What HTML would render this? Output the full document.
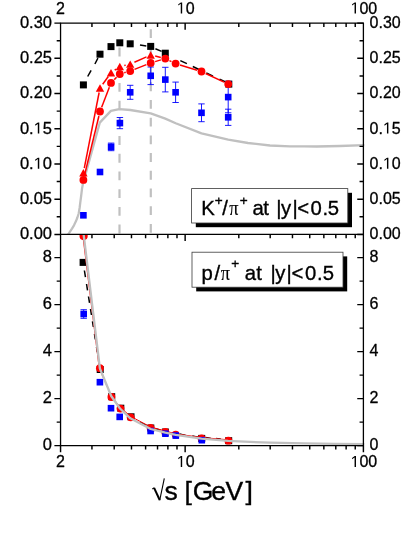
<!DOCTYPE html>
<html><head><meta charset="utf-8"><title>chart</title>
<style>html,body{margin:0;padding:0;background:#fff;}body{width:415px;height:537px;overflow:hidden;font-family:"Liberation Sans",sans-serif;}</style>
</head><body>
<svg width="415" height="537" viewBox="0 0 415 537" style="display:block;will-change:transform">
<rect width="415" height="537" fill="#fff"/>
<defs>
<clipPath id="c1"><rect x="60.55" y="23.1" width="304.15" height="211.3"/></clipPath>
<clipPath id="c2"><rect x="60.55" y="234.4" width="304.15" height="211.20000000000002"/></clipPath>
</defs>
<line x1="119.5" y1="47.6" x2="119.5" y2="234.4" stroke="#c0c0c0" stroke-width="2.2" stroke-dasharray="8.85 8.85"/>
<line x1="150.8" y1="29.2" x2="150.8" y2="234.4" stroke="#c0c0c0" stroke-width="2.2" stroke-dasharray="8.85 8.85"/>
<g clip-path="url(#c1)">
<polyline points="67.6,235.0 68.5,234.0 70.0,231.6 72.0,228.6 74.0,225.3 75.9,221.3 77.4,217.5 78.7,213.5 79.6,208.0 80.3,202.3 81.2,195.5 82.0,188.9 82.8,184.5 83.6,181.3 99.8,122.6 110.9,110.9 119.3,109.1 130.3,110.0 150.7,113.4 165.3,118.6 175.7,123.3 201.5,133.4 228.2,139.6 248.0,143.0 270.0,145.5 290.0,146.3 304.0,146.4 316.6,146.5 340.0,146.0 364.5,145.2" fill="none" stroke="#c0c0c0" stroke-width="2.3" stroke-linejoin="round" />
</g>
<line x1="87.7" y1="76.5" x2="91.1" y2="70.4" stroke="#000" stroke-width="1.5"/>
<line x1="94.9" y1="64.0" x2="97.9" y2="58.2" stroke="#000" stroke-width="1.5"/>
<line x1="140" y1="44.9" x2="146.3" y2="45.9" stroke="#000" stroke-width="1.5"/>
<line x1="155.4" y1="48.7" x2="161.6" y2="51.4" stroke="#000" stroke-width="1.5"/>
<line x1="180.3" y1="60.6" x2="186.9" y2="63.6" stroke="#000" stroke-width="1.5"/>
<line x1="192.8" y1="66.5" x2="199" y2="69.5" stroke="#000" stroke-width="1.5"/>
<line x1="206.3" y1="73.0" x2="213" y2="76.2" stroke="#000" stroke-width="1.5"/>
<line x1="219.5" y1="79.2" x2="225" y2="81.8" stroke="#000" stroke-width="1.5"/>
<rect x="79.90" y="81.40" width="7" height="7" fill="#000"/>
<rect x="96.50" y="50.70" width="7" height="7" fill="#000"/>
<rect x="107.50" y="43.10" width="7" height="7" fill="#000"/>
<rect x="116.30" y="39.30" width="7" height="7" fill="#000"/>
<rect x="126.70" y="40.30" width="7" height="7" fill="#000"/>
<rect x="147.20" y="42.90" width="7" height="7" fill="#000"/>
<rect x="161.80" y="49.70" width="7" height="7" fill="#000"/>
<rect x="225.30" y="80.60" width="7" height="7" fill="#000"/>
<path d="M111.10,143.10V150.70M107.90,143.10h6.4M107.90,150.70h6.4" stroke="#0000ff" stroke-width="0.9" fill="none"/>
<path d="M119.90,117.50V128.70M116.70,117.50h6.4M116.70,128.70h6.4" stroke="#0000ff" stroke-width="0.9" fill="none"/>
<path d="M130.20,85.30V99.30M127.00,85.30h6.4M127.00,99.30h6.4" stroke="#0000ff" stroke-width="0.9" fill="none"/>
<path d="M150.70,67.00V84.60M147.50,67.00h6.4M147.50,84.60h6.4" stroke="#0000ff" stroke-width="0.9" fill="none"/>
<path d="M165.30,67.30V91.90M162.10,67.30h6.4M162.10,91.90h6.4" stroke="#0000ff" stroke-width="0.9" fill="none"/>
<path d="M175.60,82.10V102.50M172.40,82.10h6.4M172.40,102.50h6.4" stroke="#0000ff" stroke-width="0.9" fill="none"/>
<path d="M201.50,103.90V121.70M198.30,103.90h6.4M198.30,121.70h6.4" stroke="#0000ff" stroke-width="0.9" fill="none"/>
<path d="M228.20,81.40V112.80M225.00,81.40h6.4M225.00,112.80h6.4" stroke="#0000ff" stroke-width="0.9" fill="none"/>
<path d="M228.20,109.20V125.40M225.00,109.20h6.4M225.00,125.40h6.4" stroke="#0000ff" stroke-width="0.9" fill="none"/>
<rect x="80.10" y="212.00" width="6.6" height="6.6" fill="#0000ff"/>
<rect x="96.70" y="168.70" width="6.6" height="6.6" fill="#0000ff"/>
<rect x="107.80" y="143.60" width="6.6" height="6.6" fill="#0000ff"/>
<rect x="116.60" y="119.80" width="6.6" height="6.6" fill="#0000ff"/>
<rect x="126.90" y="89.00" width="6.6" height="6.6" fill="#0000ff"/>
<rect x="147.40" y="72.50" width="6.6" height="6.6" fill="#0000ff"/>
<rect x="162.00" y="76.30" width="6.6" height="6.6" fill="#0000ff"/>
<rect x="172.30" y="89.00" width="6.6" height="6.6" fill="#0000ff"/>
<rect x="198.20" y="109.50" width="6.6" height="6.6" fill="#0000ff"/>
<rect x="224.90" y="93.80" width="6.6" height="6.6" fill="#0000ff"/>
<rect x="224.90" y="114.00" width="6.6" height="6.6" fill="#0000ff"/>
<line x1="84.28" y1="168.19" x2="99.12" y2="92.51" stroke="#ff0000" stroke-width="1.5"/>
<line x1="102.70" y1="84.27" x2="108.30" y2="76.53" stroke="#ff0000" stroke-width="1.5"/>
<line x1="114.74" y1="70.12" x2="116.06" y2="69.18" stroke="#ff0000" stroke-width="1.5"/>
<line x1="124.28" y1="65.47" x2="125.72" y2="65.13" stroke="#ff0000" stroke-width="1.5"/>
<line x1="134.40" y1="62.23" x2="146.50" y2="56.87" stroke="#ff0000" stroke-width="1.5"/>
<line x1="155.17" y1="56.10" x2="160.83" y2="57.50" stroke="#ff0000" stroke-width="1.5"/>
<polygon points="79.20,176.40 87.60,176.40 83.40,169.00" fill="#ff0000"/>
<polygon points="95.80,91.70 104.20,91.70 100.00,84.30" fill="#ff0000"/>
<polygon points="106.80,76.50 115.20,76.50 111.00,69.10" fill="#ff0000"/>
<polygon points="115.60,70.20 124.00,70.20 119.80,62.80" fill="#ff0000"/>
<polygon points="126.00,67.80 134.40,67.80 130.20,60.40" fill="#ff0000"/>
<polygon points="146.50,58.70 154.90,58.70 150.70,51.30" fill="#ff0000"/>
<line x1="84.48" y1="175.43" x2="98.92" y2="115.97" stroke="#ff0000" stroke-width="1.5"/>
<line x1="101.65" y1="107.21" x2="109.35" y2="87.19" stroke="#ff0000" stroke-width="1.5"/>
<line x1="114.23" y1="79.63" x2="116.57" y2="77.27" stroke="#ff0000" stroke-width="1.5"/>
<line x1="124.23" y1="72.76" x2="125.77" y2="72.34" stroke="#ff0000" stroke-width="1.5"/>
<line x1="134.47" y1="69.39" x2="146.43" y2="64.61" stroke="#ff0000" stroke-width="1.5"/>
<line x1="155.11" y1="61.60" x2="160.89" y2="59.90" stroke="#ff0000" stroke-width="1.5"/>
<line x1="169.44" y1="60.61" x2="171.46" y2="61.59" stroke="#ff0000" stroke-width="1.5"/>
<line x1="180.00" y1="64.94" x2="197.10" y2="70.16" stroke="#ff0000" stroke-width="1.5"/>
<line x1="205.66" y1="73.46" x2="224.04" y2="82.14" stroke="#ff0000" stroke-width="1.5"/>
<circle cx="83.40" cy="179.90" r="3.9" fill="#ff0000"/>
<circle cx="100.00" cy="111.50" r="3.9" fill="#ff0000"/>
<circle cx="111.00" cy="82.90" r="3.9" fill="#ff0000"/>
<circle cx="119.80" cy="74.00" r="3.9" fill="#ff0000"/>
<circle cx="130.20" cy="71.10" r="3.9" fill="#ff0000"/>
<circle cx="150.70" cy="62.90" r="3.9" fill="#ff0000"/>
<circle cx="165.30" cy="58.60" r="3.9" fill="#ff0000"/>
<circle cx="175.60" cy="63.60" r="3.9" fill="#ff0000"/>
<circle cx="201.50" cy="71.50" r="3.9" fill="#ff0000"/>
<circle cx="228.20" cy="84.10" r="3.9" fill="#ff0000"/>
<g clip-path="url(#c2)">
<line x1="84.39" y1="270.5" x2="85.45" y2="277.2" stroke="#000" stroke-width="1.5"/>
<line x1="86.53" y1="284" x2="87.53" y2="290.3" stroke="#000" stroke-width="1.5"/>
<line x1="88.51" y1="296.5" x2="89.53" y2="302.9" stroke="#000" stroke-width="1.5"/>
<line x1="90.5" y1="309" x2="91.45" y2="315" stroke="#000" stroke-width="1.5"/>
<line x1="92.45" y1="321.3" x2="93.35" y2="327" stroke="#000" stroke-width="1.5"/>
<line x1="94.46" y1="334" x2="95.34" y2="339.5" stroke="#000" stroke-width="1.5"/>
<line x1="96.5" y1="346.8" x2="97.35" y2="352.2" stroke="#000" stroke-width="1.5"/>
<line x1="140" y1="422.3" x2="146.5" y2="425.4" stroke="#000" stroke-width="1.5"/>
<line x1="155.5" y1="428.6" x2="160.5" y2="430.2" stroke="#000" stroke-width="1.5"/>
<line x1="179.6" y1="434.1" x2="185.6" y2="435.5" stroke="#000" stroke-width="1.5"/>
<line x1="192.3" y1="435.9" x2="198.2" y2="437.3" stroke="#000" stroke-width="1.5"/>
<line x1="205.5" y1="437.4" x2="210.8" y2="438.5" stroke="#000" stroke-width="1.5"/>
<line x1="216.1" y1="438.5" x2="220.8" y2="439.2" stroke="#000" stroke-width="1.5"/>
<rect x="79.60" y="258.90" width="7" height="7" fill="#000"/>
<rect x="96.70" y="366.00" width="7" height="7" fill="#000"/>
<rect x="108.20" y="393.20" width="7" height="7" fill="#000"/>
<rect x="117.30" y="404.70" width="7" height="7" fill="#000"/>
<rect x="127.50" y="413.30" width="7" height="7" fill="#000"/>
<rect x="147.30" y="424.50" width="7" height="7" fill="#000"/>
<rect x="161.90" y="428.50" width="7" height="7" fill="#000"/>
<rect x="198.20" y="434.90" width="7" height="7" fill="#000"/>
<rect x="225.20" y="437.20" width="7" height="7" fill="#000"/>
<polyline points="82.9,236.1 99.2,368.2 111.4,396.1 120.5,407.7 130.7,416.4 150.6,427.0 165.3,431.0 175.7,433.8 201.6,437.5 228.4,439.8" fill="none" stroke="#ff0000" stroke-width="1" stroke-linejoin="round" />
<circle cx="83.60" cy="236.10" r="4.1" fill="#ff0000"/>
<circle cx="99.90" cy="368.20" r="3.9" fill="#ff0000"/>
<circle cx="111.40" cy="397.00" r="3.9" fill="#ff0000"/>
<circle cx="120.50" cy="408.60" r="3.9" fill="#ff0000"/>
<circle cx="130.70" cy="417.30" r="3.9" fill="#ff0000"/>
<circle cx="150.60" cy="427.90" r="3.9" fill="#ff0000"/>
<circle cx="165.30" cy="431.90" r="3.9" fill="#ff0000"/>
<circle cx="175.70" cy="434.70" r="3.9" fill="#ff0000"/>
<circle cx="201.60" cy="438.40" r="3.9" fill="#ff0000"/>
<circle cx="228.40" cy="440.70" r="3.9" fill="#ff0000"/>
<path d="M83.70,309.70V318.30M80.50,309.70h6.4M80.50,318.30h6.4" stroke="#0000ff" stroke-width="0.9" fill="none"/>
<rect x="80.40" y="310.70" width="6.6" height="6.6" fill="#0000ff"/>
<rect x="96.60" y="378.90" width="6.6" height="6.6" fill="#0000ff"/>
<rect x="107.70" y="404.90" width="6.6" height="6.6" fill="#0000ff"/>
<rect x="116.40" y="413.60" width="6.6" height="6.6" fill="#0000ff"/>
<rect x="147.30" y="427.70" width="6.6" height="6.6" fill="#0000ff"/>
<rect x="162.10" y="430.40" width="6.6" height="6.6" fill="#0000ff"/>
<rect x="172.50" y="432.30" width="6.6" height="6.6" fill="#0000ff"/>
<rect x="198.50" y="436.90" width="6.6" height="6.6" fill="#0000ff"/>
<polyline points="83.2,231.0 83.7,235.0 99.9,368.5 111.2,396.0 120.0,408.5 130.3,418.3 150.7,429.0 165.3,432.7 175.7,434.8 201.5,438.7 228.2,440.8 250.0,441.9 270.0,442.6 304.0,443.3 335.0,443.8 364.5,444.2" fill="none" stroke="#c0c0c0" stroke-width="2.3" stroke-linejoin="round" />
</g>
<path d="M60.55,23.1H363.4M60.55,234.4H363.4M60.55,445.6H363.4M60.55,22.450000000000003V446.25M363.4,22.450000000000003V446.25" stroke="#000" stroke-width="1.3" fill="none"/>
<path d="M91.94,23.1v3.85M114.21,23.1v3.85M131.48,23.1v3.85M145.60,23.1v3.85M157.53,23.1v3.85M167.87,23.1v3.85M176.99,23.1v3.85M238.81,23.1v3.85M270.19,23.1v3.85M292.47,23.1v3.85M309.74,23.1v3.85M323.85,23.1v3.85M335.79,23.1v3.85M346.13,23.1v3.85M355.24,23.1v3.85M185.14,23.1v6.65M91.94,234.4v3.85M114.21,234.4v3.85M131.48,234.4v3.85M145.60,234.4v3.85M157.53,234.4v3.85M167.87,234.4v3.85M176.99,234.4v3.85M238.81,234.4v3.85M270.19,234.4v3.85M292.47,234.4v3.85M309.74,234.4v3.85M323.85,234.4v3.85M335.79,234.4v3.85M346.13,234.4v3.85M355.24,234.4v3.85M185.14,234.4v6.65M91.94,445.6v3.85M114.21,445.6v3.85M131.48,445.6v3.85M145.60,445.6v3.85M157.53,445.6v3.85M167.87,445.6v3.85M176.99,445.6v3.85M238.81,445.6v3.85M270.19,445.6v3.85M292.47,445.6v3.85M309.74,445.6v3.85M323.85,445.6v3.85M335.79,445.6v3.85M346.13,445.6v3.85M355.24,445.6v3.85M185.14,445.6v6.65M60.55,445.6v6.65M363.4,445.6v6.65" stroke="#000" stroke-width="1.45" fill="none"/>
<path d="M60.55,234.40h-6.15M363.4,234.40h-6.15M60.55,216.79h-3.85M363.4,216.79h-3.85M60.55,199.18h-6.15M363.4,199.18h-6.15M60.55,181.57h-3.85M363.4,181.57h-3.85M60.55,163.97h-6.15M363.4,163.97h-6.15M60.55,146.36h-3.85M363.4,146.36h-3.85M60.55,128.75h-6.15M363.4,128.75h-6.15M60.55,111.14h-3.85M363.4,111.14h-3.85M60.55,93.53h-6.15M363.4,93.53h-6.15M60.55,75.92h-3.85M363.4,75.92h-3.85M60.55,58.32h-6.15M363.4,58.32h-6.15M60.55,40.71h-3.85M363.4,40.71h-3.85M60.55,23.10h-6.15M363.4,23.10h-6.15M60.55,445.60h-6.15M363.4,445.60h-6.15M60.55,422.10h-3.85M363.4,422.10h-3.85M60.55,398.60h-6.15M363.4,398.60h-6.15M60.55,375.10h-3.85M363.4,375.10h-3.85M60.55,351.60h-6.15M363.4,351.60h-6.15M60.55,328.10h-3.85M363.4,328.10h-3.85M60.55,304.60h-6.15M363.4,304.60h-6.15M60.55,281.10h-3.85M363.4,281.10h-3.85M60.55,257.60h-6.15M363.4,257.60h-6.15" stroke="#000" stroke-width="1.45" fill="none"/>
<g font-family="Liberation Sans, sans-serif" font-size="16" fill="#000" stroke="#000" stroke-width="0.3" stroke-linejoin="round">
<g transform="translate(52.00,239.20) scale(1.03,1)">
<text x="-31.14" y="0">0.00</text>
</g>
<g transform="translate(369.60,239.20) scale(1.0,1)">
<text x="0.00" y="0">0.00</text>
</g>
<g transform="translate(52.00,203.98) scale(1.03,1)">
<text x="-31.14" y="0">0.05</text>
</g>
<g transform="translate(369.60,203.98) scale(1.0,1)">
<text x="0.00" y="0">0.05</text>
</g>
<g transform="translate(52.00,168.77) scale(1.03,1)">
<text x="-31.14" y="0">0.</text>
<path transform="translate(-17.80,0) scale(0.007812,-0.007812)" d="M515 0V1237L197 1010V1180L530 1409H696V0Z"/>
<text x="-8.90" y="0">0</text>
</g>
<g transform="translate(369.60,168.77) scale(1.0,1)">
<text x="0.00" y="0">0.</text>
<path transform="translate(13.34,0) scale(0.007812,-0.007812)" d="M515 0V1237L197 1010V1180L530 1409H696V0Z"/>
<text x="22.24" y="0">0</text>
</g>
<g transform="translate(52.00,133.55) scale(1.03,1)">
<text x="-31.14" y="0">0.</text>
<path transform="translate(-17.80,0) scale(0.007812,-0.007812)" d="M515 0V1237L197 1010V1180L530 1409H696V0Z"/>
<text x="-8.90" y="0">5</text>
</g>
<g transform="translate(369.60,133.55) scale(1.0,1)">
<text x="0.00" y="0">0.</text>
<path transform="translate(13.34,0) scale(0.007812,-0.007812)" d="M515 0V1237L197 1010V1180L530 1409H696V0Z"/>
<text x="22.24" y="0">5</text>
</g>
<g transform="translate(52.00,98.33) scale(1.03,1)">
<text x="-31.14" y="0">0.20</text>
</g>
<g transform="translate(369.60,98.33) scale(1.0,1)">
<text x="0.00" y="0">0.20</text>
</g>
<g transform="translate(52.00,63.12) scale(1.03,1)">
<text x="-31.14" y="0">0.25</text>
</g>
<g transform="translate(369.60,63.12) scale(1.0,1)">
<text x="0.00" y="0">0.25</text>
</g>
<g transform="translate(52.00,27.90) scale(1.03,1)">
<text x="-31.14" y="0">0.30</text>
</g>
<g transform="translate(369.60,27.90) scale(1.0,1)">
<text x="0.00" y="0">0.30</text>
</g>
<g transform="translate(52.00,450.40) scale(1.03,1)">
<text x="-8.90" y="0">0</text>
</g>
<g transform="translate(369.60,450.40) scale(1.0,1)">
<text x="0.00" y="0">0</text>
</g>
<g transform="translate(52.00,403.40) scale(1.03,1)">
<text x="-8.90" y="0">2</text>
</g>
<g transform="translate(369.60,403.40) scale(1.0,1)">
<text x="0.00" y="0">2</text>
</g>
<g transform="translate(52.00,356.40) scale(1.03,1)">
<text x="-8.90" y="0">4</text>
</g>
<g transform="translate(369.60,356.40) scale(1.0,1)">
<text x="0.00" y="0">4</text>
</g>
<g transform="translate(52.00,309.40) scale(1.03,1)">
<text x="-8.90" y="0">6</text>
</g>
<g transform="translate(369.60,309.40) scale(1.0,1)">
<text x="0.00" y="0">6</text>
</g>
<g transform="translate(52.00,262.40) scale(1.03,1)">
<text x="-8.90" y="0">8</text>
</g>
<g transform="translate(369.60,262.40) scale(1.0,1)">
<text x="0.00" y="0">8</text>
</g>
<g transform="translate(60.55,13.50) scale(1.0,1)">
<text x="-4.45" y="0">2</text>
</g>
<g transform="translate(60.55,467.10) scale(1.0,1)">
<text x="-4.45" y="0">2</text>
</g>
<g transform="translate(185.64,13.50) scale(1.0,1)">
<path transform="translate(-8.90,0) scale(0.007812,-0.007812)" d="M515 0V1237L197 1010V1180L530 1409H696V0Z"/>
<text x="0.00" y="0">0</text>
</g>
<g transform="translate(185.64,467.10) scale(1.0,1)">
<path transform="translate(-8.90,0) scale(0.007812,-0.007812)" d="M515 0V1237L197 1010V1180L530 1409H696V0Z"/>
<text x="0.00" y="0">0</text>
</g>
<g transform="translate(363.90,13.50) scale(1.0,1)">
<path transform="translate(-13.35,0) scale(0.007812,-0.007812)" d="M515 0V1237L197 1010V1180L530 1409H696V0Z"/>
<text x="-4.45" y="0">00</text>
</g>
<g transform="translate(363.90,467.10) scale(1.0,1)">
<path transform="translate(-13.35,0) scale(0.007812,-0.007812)" d="M515 0V1237L197 1010V1180L530 1409H696V0Z"/>
<text x="-4.45" y="0">00</text>
</g>
</g>
<rect x="195.79999999999998" y="192.79999999999998" width="156.20000000000002" height="34.400000000000006" fill="#000"/>
<rect x="191.6" y="188.6" width="156.20000000000002" height="34.400000000000006" fill="#fff" stroke="#3a3a3a" stroke-width="0.8"/>
<text x="201.13" y="214.80" font-family="Liberation Sans, sans-serif" font-size="20.3" fill="#000" stroke="#000" stroke-width="0.35">K</text>
<text x="222.30" y="214.80" font-family="Liberation Sans, sans-serif" font-size="20.3" fill="#000" stroke="#000" stroke-width="0.35">/</text>
<text x="252.54" y="214.80" font-family="Liberation Sans, sans-serif" font-size="20.3" fill="#000" stroke="#000" stroke-width="0.35">a</text>
<text x="263.19" y="214.80" font-family="Liberation Sans, sans-serif" font-size="20.3" fill="#000" stroke="#000" stroke-width="0.35">t</text>
<text x="276.19" y="214.80" font-family="Liberation Sans, sans-serif" font-size="20.3" fill="#000" stroke="#000" stroke-width="0.35">|</text>
<text x="281.05" y="214.80" font-family="Liberation Sans, sans-serif" font-size="20.3" fill="#000" stroke="#000" stroke-width="0.35">y</text>
<text x="292.39" y="214.80" font-family="Liberation Sans, sans-serif" font-size="20.3" fill="#000" stroke="#000" stroke-width="0.35">|</text>
<text x="297.20" y="214.80" font-family="Liberation Sans, sans-serif" font-size="20.3" fill="#000" stroke="#000" stroke-width="0.35">&lt;</text>
<text x="310.41" y="214.80" font-family="Liberation Sans, sans-serif" font-size="20.3" fill="#000" stroke="#000" stroke-width="0.35">0</text>
<text x="322.45" y="214.80" font-family="Liberation Sans, sans-serif" font-size="20.3" fill="#000" stroke="#000" stroke-width="0.35">.</text>
<text x="327.69" y="214.80" font-family="Liberation Sans, sans-serif" font-size="20.3" fill="#000" stroke="#000" stroke-width="0.35">5</text>
<text transform="translate(229.25,214.80) scale(0.85,1)" font-family="Liberation Serif, serif" font-size="21.5" fill="#000" stroke="#000" stroke-width="0.15">π</text>
<text x="214.74" y="204.90" font-family="Liberation Sans, sans-serif" font-size="13.6" fill="#000" stroke="#000" stroke-width="0.35">+</text>
<text x="239.64" y="204.90" font-family="Liberation Sans, sans-serif" font-size="13.6" fill="#000" stroke="#000" stroke-width="0.35">+</text>
<rect x="196.2" y="256.4" width="151.0" height="35.0" fill="#000"/>
<rect x="192.0" y="252.2" width="151.0" height="35.0" fill="#fff" stroke="#3a3a3a" stroke-width="0.8"/>
<text x="201.59" y="279.60" font-family="Liberation Sans, sans-serif" font-size="20.3" fill="#000" stroke="#000" stroke-width="0.35">p</text>
<text x="214.50" y="279.60" font-family="Liberation Sans, sans-serif" font-size="20.3" fill="#000" stroke="#000" stroke-width="0.35">/</text>
<text x="244.64" y="279.60" font-family="Liberation Sans, sans-serif" font-size="20.3" fill="#000" stroke="#000" stroke-width="0.35">a</text>
<text x="256.29" y="279.60" font-family="Liberation Sans, sans-serif" font-size="20.3" fill="#000" stroke="#000" stroke-width="0.35">t</text>
<text x="270.39" y="279.60" font-family="Liberation Sans, sans-serif" font-size="20.3" fill="#000" stroke="#000" stroke-width="0.35">|</text>
<text x="275.35" y="279.60" font-family="Liberation Sans, sans-serif" font-size="20.3" fill="#000" stroke="#000" stroke-width="0.35">y</text>
<text x="286.59" y="279.60" font-family="Liberation Sans, sans-serif" font-size="20.3" fill="#000" stroke="#000" stroke-width="0.35">|</text>
<text x="291.60" y="279.60" font-family="Liberation Sans, sans-serif" font-size="20.3" fill="#000" stroke="#000" stroke-width="0.35">&lt;</text>
<text x="305.11" y="279.60" font-family="Liberation Sans, sans-serif" font-size="20.3" fill="#000" stroke="#000" stroke-width="0.35">0</text>
<text x="317.05" y="279.60" font-family="Liberation Sans, sans-serif" font-size="20.3" fill="#000" stroke="#000" stroke-width="0.35">.</text>
<text x="322.69" y="279.60" font-family="Liberation Sans, sans-serif" font-size="20.3" fill="#000" stroke="#000" stroke-width="0.35">5</text>
<text transform="translate(220.75,279.60) scale(0.85,1)" font-family="Liberation Serif, serif" font-size="21.5" fill="#000" stroke="#000" stroke-width="0.15">π</text>
<text x="231.14" y="267.60" font-family="Liberation Sans, sans-serif" font-size="13.6" fill="#000" stroke="#000" stroke-width="0.35">+</text>
<text x="164.56" y="499.80" font-family="Liberation Sans, sans-serif" font-size="26.5" fill="#000" stroke="#000" stroke-width="0.35">s</text>
<text x="184.41" y="499.80" font-family="Liberation Sans, sans-serif" font-size="26.5" fill="#000" stroke="#000" stroke-width="0.35">[</text>
<text x="192.67" y="499.80" font-family="Liberation Sans, sans-serif" font-size="26.5" fill="#000" stroke="#000" stroke-width="0.35">G</text>
<text x="211.37" y="499.80" font-family="Liberation Sans, sans-serif" font-size="26.5" fill="#000" stroke="#000" stroke-width="0.35">e</text>
<text x="225.38" y="499.80" font-family="Liberation Sans, sans-serif" font-size="26.5" fill="#000" stroke="#000" stroke-width="0.35">V</text>
<text x="245.49" y="499.80" font-family="Liberation Sans, sans-serif" font-size="26.5" fill="#000" stroke="#000" stroke-width="0.35">]</text>
<path d="M152.3,489.0L154.3,487.7" stroke="#000" stroke-width="1.1" fill="none"/>
<path d="M154.1,487.8L159.7,500.0" stroke="#000" stroke-width="2.0" fill="none"/>
<path d="M159.7,500.3L164.3,478.4" stroke="#000" stroke-width="1.1" fill="none"/>
</svg>
</body></html>
